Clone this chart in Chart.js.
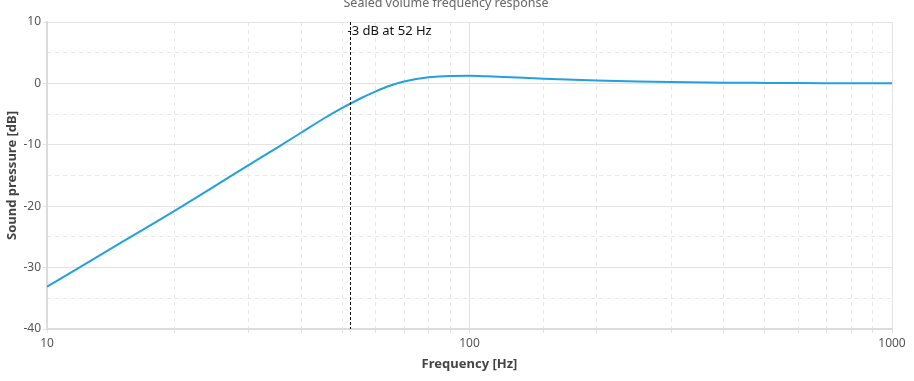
<!DOCTYPE html>
<html>
<head>
<meta charset="utf-8">
<script src="https://cdn.jsdelivr.net/npm/chart.js@4"></script>
<style>
html,body{margin:0;padding:0;background:#fff;}
#wrap{width:914px;height:381px;position:relative;}
</style>
</head>
<body>
<div id="wrap"><canvas id="c"></canvas></div>
<script>
// Data
const freqHz = [10, 12, 15, 20, 25, 30, 35, 40, 45, 50, 55, 60, 65, 70, 80, 90, 100, 110, 125, 150, 200, 250, 300, 400, 500, 600, 800, 1000];
const splDb  = [-33.1, -29.9, -25.9, -20.8, -16.7, -13.3, -10.5, -8.0, -5.8, -4.0, -2.5, -1.3, -0.35, 0.3, 1.0, 1.22, 1.24, 1.16, 1.0, 0.76, 0.46, 0.3, 0.21, 0.12, 0.08, 0.05, 0.03, 0.02];
const cutoffHz = 52;
const cutoffLabel = '-3 dB at 52 Hz';
const chartTitle = 'Sealed volume frequency response';
const xTitle = 'Frequency [Hz]';
const yTitle = 'Sound pressure [dB]';
const xLabelTicks = [10, 100, 1000];
const yMin = -40, yMax = 10;

const FONT = '"Noto Sans", "Open Sans", sans-serif';
const isMajorX = v => xLabelTicks.some(t => Math.abs(t - v) < 1e-6);

const markerPlugin = {
  id: 'marker',
  afterDatasetsDraw(chart) {
    const {ctx, chartArea, scales: {x}} = chart;
    const px = Math.round(x.getPixelForValue(cutoffHz)) + 0.5;
    ctx.save();
    ctx.beginPath();
    ctx.setLineDash([3, 2]);
    ctx.strokeStyle = '#111';
    ctx.lineWidth = 1;
    ctx.moveTo(px, chartArea.top);
    ctx.lineTo(px, chartArea.bottom);
    ctx.stroke();
    ctx.setLineDash([]);
    ctx.fillStyle = '#111';
    ctx.font = '13px ' + FONT;
    ctx.textBaseline = 'middle';
    ctx.textAlign = 'left';
    ctx.fillText(cutoffLabel, px - 3, chartArea.top + 9.5);
    ctx.restore();
  }
};

new Chart(document.getElementById('c'), {
  type: 'line',
  data: {
    datasets: [{
      data: freqHz.map((f, i) => ({x: f, y: splDb[i]})),
      borderColor: '#22a0e0',
      borderWidth: 2,
      pointRadius: 0,
      fill: false,
      cubicInterpolationMode: 'monotone'
    }]
  },
  options: {
    responsive: true,
    maintainAspectRatio: false,
    animation: false,
    layout: {padding: {left: 0, right: 22, top: 0, bottom: 0}},
    plugins: {
      legend: {display: false},
      tooltip: {enabled: false},
      title: {
        display: true,
        text: chartTitle,
        color: '#666',
        font: {family: FONT, size: 12.5, weight: 'normal'},
        padding: {top: -4, bottom: 11}
      }
    },
    scales: {
      x: {
        type: 'logarithmic',
        position: 'bottom',
        min: 10, max: 1000,
        afterFit: s => { s.height = 52; },
        ticks: {
          autoSkip: false,
          maxRotation: 0,
          color: '#555',
          font: {family: FONT, size: 12},
          padding: 3,
          callback: v => isMajorX(v) ? String(v) : ''
        },
        grid: {
          color: c => (c.tick && isMajorX(c.tick.value)) ? '#e3e3e3' : 'rgba(0,0,0,0)',
          lineWidth: 1,
          tickLength: 4,
          tickColor: '#e3e3e3'
        },
        border: {display: true, color: '#dcdcdc', width: 2},
        title: {
          display: true, text: xTitle, color: '#444',
          font: {family: FONT, size: 13, weight: 'bold'},
          padding: {top: 4, bottom: 9}
        }
      },
      x2: {
        type: 'logarithmic',
        position: 'bottom',
        min: 10, max: 1000,
        afterFit: s => { s.height = 0; },
        ticks: {display: false, autoSkip: false},
        grid: {
          color: c => (c.tick && !isMajorX(c.tick.value)) ? '#e8e8e8' : 'rgba(0,0,0,0)',
          drawTicks: false
        },
        border: {display: false, dash: [4, 4]}
      },
      y: {
        type: 'linear',
        position: 'left',
        min: yMin, max: yMax,
        afterFit: s => { s.width = 47; },
        ticks: {
          stepSize: 10,
          color: '#555',
          font: {family: FONT, size: 12},
          padding: 2
        },
        grid: {
          color: '#e3e3e3',
          tickLength: 4,
          tickColor: '#e3e3e3'
        },
        border: {display: true, color: '#dcdcdc', width: 2},
        title: {
          display: true, text: yTitle, color: '#444',
          font: {family: FONT, size: 13, weight: 'bold'},
          padding: {top: 4, bottom: 4}
        }
      },
      y2: {
        type: 'linear',
        position: 'left',
        min: yMin, max: yMax,
        afterFit: s => { s.width = 0; },
        ticks: {display: false, stepSize: 5},
        grid: {
          color: c => (c.tick && c.tick.value % 10 !== 0) ? '#e8e8e8' : 'rgba(0,0,0,0)',
          drawTicks: false
        },
        border: {display: false, dash: [4, 4]}
      }
    }
  },
  plugins: [markerPlugin]
});
</script>
</body>
</html>
